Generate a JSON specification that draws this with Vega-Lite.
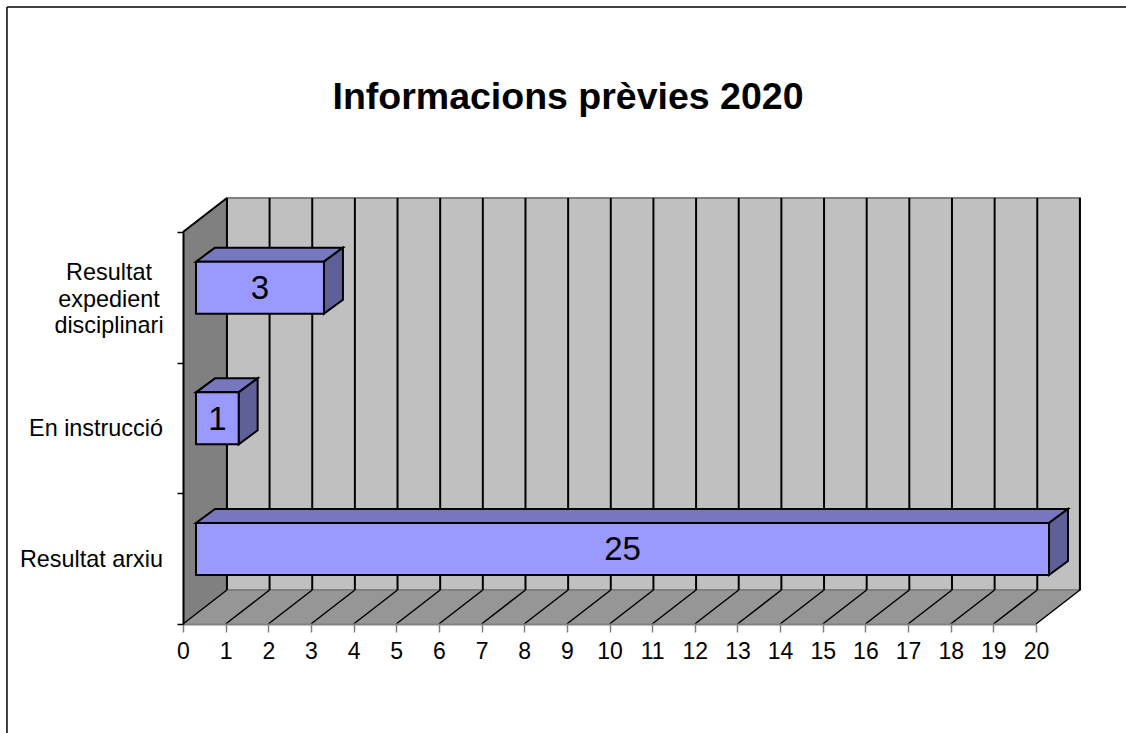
{
"$schema":"https://vega.github.io/schema/vega-lite/v6.json",
"width":853,"height":392,
"autosize":{"type":"none"},
"padding":{"left":183,"top":232,"right":90,"bottom":109},
"background":"white",
"title":{"text":"Informacions prèvies 2020","font":"Liberation Sans","fontSize":37.5,"fontWeight":"bold","color":"black","anchor":"middle","dx":-41.5,"offset":-110},
"config":{"view":{"stroke":null},"font":"Liberation Sans"},
"datasets":{
"barres":[
{"etiqueta":"Resultat arxiu","ordre":1,"valor":25},
{"etiqueta":"En instrucció","ordre":2,"valor":1},
{"etiqueta":"Resultat\nexpedient\ndisciplinari","ordre":3,"valor":3}],
"marques":[{"t":0},{"t":1},{"t":2},{"t":3},{"t":4},{"t":5},{"t":6},{"t":7},{"t":8},{"t":9},{"t":10},{"t":11},{"t":12},{"t":13},{"t":14},{"t":15},{"t":16},{"t":17},{"t":18},{"t":19},{"t":20}],
"paret":[{"a":0,"baix":0,"dalt":3},{"a":1.03,"baix":0.26,"dalt":3.26}],
"terra":[{"n":0,"e":0,"d":20},{"n":0.26,"e":1.03,"d":21.03}],
"fons":[{"e":1.03,"d":21.03,"b":0.26,"a":3.26}],
"aresta":[{"e":0,"d":1.03,"b":3,"a":3.26}],
"marc":[{"e":-4.127,"d":22.2,"b":-0.84,"a":4.722}]
},
"layer":[
{"data":{"name":"paret"},"mark":{"type":"area","fill":"#808080"},
 "encoding":{
  "x":{"field":"a","type":"quantitative","scale":{"domain":[0,20],"nice":false,"zero":false},"title":null,
   "axis":{"title":null,"values":[0,1,2,3,4,5,6,7,8,9,10,11,12,13,14,15,16,17,18,19,20],"grid":false,"zindex":1,"domainColor":"#808080","domainWidth":2,"tickColor":"#808080","tickWidth":1.5,"tickSize":8,"labelFontSize":23,"labelColor":"black","labelPadding":8,"labelFlush":false,"labelOverlap":false,"format":"d"}},
  "y":{"field":"baix","type":"quantitative","scale":{"domain":[0,3],"nice":false,"zero":false},"title":null,
   "axis":{"title":null,"values":[0,1,2,3],"grid":false,"zindex":1,"labels":false,"domainColor":"#000000","domainWidth":2,"tickColor":"#000000","tickWidth":1.5,"tickSize":6}},
  "y2":{"field":"dalt"}}},
{"data":{"name":"terra"},"mark":{"type":"area","orient":"horizontal","fill":"#969696"},
 "encoding":{"y":{"field":"n","type":"quantitative"},"x":{"field":"e","type":"quantitative"},"x2":{"field":"d"}}},
{"data":{"name":"fons"},"mark":{"type":"rect","fill":"#C0C0C0","stroke":"#808080","strokeWidth":2},
 "encoding":{"x":{"field":"e","type":"quantitative"},"x2":{"field":"d"},"y":{"field":"b","type":"quantitative"},"y2":{"field":"a"}}},
{"data":{"name":"marques"},"transform":[{"calculate":"datum.t+1.03","as":"u"},{"calculate":"0.26","as":"b"},{"calculate":"3.26","as":"a"}],"mark":{"type":"rule","color":"#000000","strokeWidth":2},
 "encoding":{"x":{"field":"u","type":"quantitative"},"y":{"field":"b","type":"quantitative"},"y2":{"field":"a"}}},
{"data":{"name":"marques"},"transform":[{"calculate":"datum.t+1.03","as":"u"},{"calculate":"0","as":"b"},{"calculate":"0.26","as":"a"}],"mark":{"type":"rule","color":"#000000","strokeWidth":1.5},
 "encoding":{"x":{"field":"t","type":"quantitative"},"x2":{"field":"u"},"y":{"field":"b","type":"quantitative"},"y2":{"field":"a"}}},
{"data":{"name":"aresta"},"mark":{"type":"rule","color":"#000000","strokeWidth":2},
 "encoding":{"x":{"field":"e","type":"quantitative"},"x2":{"field":"d"},"y":{"field":"b","type":"quantitative"},"y2":{"field":"a"}}},
{"data":{"name":"barres"},
 "transform":[{"calculate":"[0,1]","as":"f"},{"flatten":["f"]},{"calculate":"0.305+0.445*datum.f","as":"xa"},{"calculate":"min(datum.valor,20)+0.305+0.445*datum.f","as":"xb"},{"calculate":"datum.ordre-0.227+0.107*datum.f","as":"ya"}],
 "mark":{"type":"area","orient":"horizontal","fill":"#7777BF","stroke":"#000000","strokeWidth":2},
 "encoding":{"detail":{"field":"etiqueta","type":"nominal"},"y":{"field":"ya","type":"quantitative"},"x":{"field":"xa","type":"quantitative"},"x2":{"field":"xb"}}},
{"data":{"name":"barres"},
 "transform":[{"calculate":"[0,1]","as":"f"},{"flatten":["f"]},{"calculate":"min(datum.valor,20)+0.305+0.445*datum.f","as":"xb"},{"calculate":"datum.ordre-0.625+0.107*datum.f","as":"ya"},{"calculate":"datum.ordre-0.227+0.107*datum.f","as":"yb"}],
 "mark":{"type":"area","fill":"#606099","stroke":"#000000","strokeWidth":2},
 "encoding":{"detail":{"field":"etiqueta","type":"nominal"},"x":{"field":"xb","type":"quantitative"},"y":{"field":"ya","type":"quantitative"},"y2":{"field":"yb"}}},
{"data":{"name":"barres"},
 "transform":[{"calculate":"0.305","as":"xa"},{"calculate":"min(datum.valor,20)+0.305","as":"xb"},{"calculate":"datum.ordre-0.625","as":"ya"},{"calculate":"datum.ordre-0.227","as":"yb"}],
 "mark":{"type":"rect","fill":"#9999FF","stroke":"#000000","strokeWidth":2},
 "encoding":{"x":{"field":"xa","type":"quantitative"},"x2":{"field":"xb"},"y":{"field":"ya","type":"quantitative"},"y2":{"field":"yb"}}},
{"data":{"name":"barres"},
 "transform":[{"calculate":"min(datum.valor,20)/2+0.305","as":"xm"},{"calculate":"datum.ordre-0.426","as":"ym"}],
 "mark":{"type":"text","fontSize":33,"color":"#000000","align":"center","baseline":"middle","dy":1.5},
 "encoding":{"x":{"field":"xm","type":"quantitative"},"y":{"field":"ym","type":"quantitative"},"text":{"field":"valor","type":"quantitative"}}},
{"data":{"name":"barres"},
 "transform":[{"filter":"indexof(datum.etiqueta,'\\n')<0"},{"calculate":"datum.ordre-0.5","as":"ym"},{"calculate":"-0.47","as":"xm"}],
 "mark":{"type":"text","fontSize":23.4,"color":"#000000","align":"right","baseline":"middle","dy":1},
 "encoding":{"x":{"field":"xm","type":"quantitative"},"y":{"field":"ym","type":"quantitative"},"text":{"field":"etiqueta","type":"nominal"}}},
{"data":{"name":"barres"},
 "transform":[{"filter":"indexof(datum.etiqueta,'\\n')>=0"},{"calculate":"datum.ordre-0.5","as":"ym"},{"calculate":"-1.735","as":"xm"}],
 "mark":{"type":"text","fontSize":23.4,"color":"#000000","align":"center","baseline":"middle","lineBreak":"\n","lineHeight":26.5,"dy":-24},
 "encoding":{"x":{"field":"xm","type":"quantitative"},"y":{"field":"ym","type":"quantitative"},"text":{"field":"etiqueta","type":"nominal"}}},
{"data":{"name":"marc"},"mark":{"type":"rule","color":"#000000","strokeWidth":1.5},
 "encoding":{"x":{"field":"e","type":"quantitative"},"y":{"field":"b","type":"quantitative"},"y2":{"field":"a"}}},
{"data":{"name":"marc"},"mark":{"type":"rule","color":"#000000","strokeWidth":1.5},
 "encoding":{"x":{"field":"e","type":"quantitative"},"x2":{"field":"d"},"y":{"field":"a","type":"quantitative"}}}
]
}
